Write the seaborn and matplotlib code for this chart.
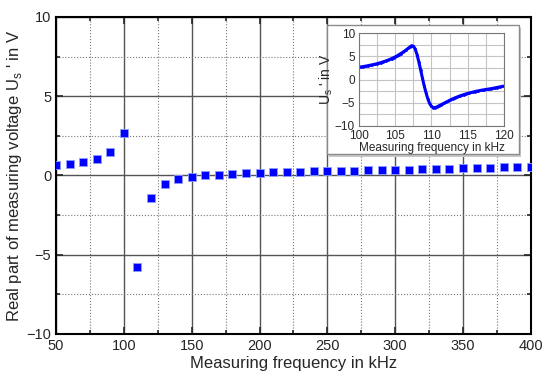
import numpy as np
import pandas as pd
import seaborn as sns
import matplotlib.pyplot as plt
from matplotlib.patches import Rectangle
from matplotlib.ticker import MultipleLocator

# main sweep, 10 kHz steps
freq = [50, 60, 70, 80, 90, 100, 110, 120, 130, 140, 150, 160, 170, 180, 190,
        200, 210, 220, 230, 240, 250, 260, 270, 280, 290, 300, 310, 320, 330,
        340, 350, 360, 370, 380, 390, 400]
u_real = [0.66, 0.75, 0.85, 1.05, 1.45, 2.65, -5.75, -1.4, -0.55, -0.25,
          -0.08, 0.0, 0.05, 0.1, 0.15, 0.18, 0.2, 0.22, 0.24, 0.26, 0.28,
          0.29, 0.31, 0.32, 0.34, 0.35, 0.37, 0.39, 0.41, 0.43, 0.45, 0.47,
          0.49, 0.51, 0.53, 0.55]

# fine sweep around resonance (inset)
freq_fine = [100.0, 100.25, 100.5, 100.75, 101.0, 101.25, 101.5, 101.75, 102.0,
             102.25, 102.5, 102.75, 103.0, 103.25, 103.5, 103.75, 104.0, 104.25,
             104.5, 104.75, 105.0, 105.25, 105.5, 105.75, 106.0, 106.25, 106.5,
             106.75, 107.0, 107.25, 107.5, 107.75, 108.0, 108.25, 108.5, 108.75,
             109.0, 109.25, 109.5, 109.75, 110.0, 110.25, 110.5, 110.75, 111.0,
             111.25, 111.5, 111.75, 112.0, 112.25, 112.5, 112.75, 113.0, 113.25,
             113.5, 113.75, 114.0, 114.25, 114.5, 114.75, 115.0, 115.25, 115.5,
             115.75, 116.0, 116.25, 116.5, 116.75, 117.0, 117.25, 117.5, 117.75,
             118.0, 118.25, 118.5, 118.75, 119.0, 119.25, 119.5, 119.75, 120.0]
u_fine = [2.66, 2.72, 2.78, 2.85, 2.92, 3.0, 3.08, 3.16, 3.25,
          3.34, 3.44, 3.55, 3.66, 3.78, 3.91, 4.05, 4.2, 4.35,
          4.52, 4.7, 4.9, 5.1, 5.35, 5.6, 5.85, 6.1, 6.4,
          6.7, 7.0, 7.3, 7.2, 6.6, 5.4, 3.8, 2.1, 0.3,
          -1.4, -2.9, -4.2, -5.2, -5.8, -6.05, -6.05, -5.9, -5.7,
          -5.5, -5.3, -5.1, -4.9, -4.7, -4.5, -4.3, -4.12, -3.95,
          -3.8, -3.65, -3.5, -3.37, -3.24, -3.12, -3.0, -2.9, -2.8,
          -2.7, -2.6, -2.52, -2.44, -2.36, -2.28, -2.22, -2.15, -2.09,
          -2.03, -1.97, -1.9, -1.82, -1.74, -1.66, -1.58, -1.5, -1.43]

sns.set_style("ticks")
plt.rcParams['font.family'] = ['Liberation Sans', 'DejaVu Sans']
plt.rcParams['mathtext.fontset'] = 'custom'
plt.rcParams['mathtext.rm'] = 'Liberation Sans'

df = pd.DataFrame({'f': freq, 'u': u_real})
df_fine = pd.DataFrame({'f': freq_fine, 'u': u_fine})

fig = plt.figure(figsize=(5.5, 3.86), dpi=100)
ax = fig.add_axes([0.102, 0.135, 0.863, 0.821])

sns.scatterplot(data=df, x='f', y='u', ax=ax, marker='s', s=30,
                color='#0000ff', edgecolor='#8c9cff', linewidth=0.6, zorder=5)

ax.set_xlim(50, 400)
ax.set_ylim(-10, 10)
ax.xaxis.set_major_locator(MultipleLocator(50))
ax.xaxis.set_minor_locator(MultipleLocator(25))
ax.yaxis.set_major_locator(MultipleLocator(5))
ax.yaxis.set_minor_locator(MultipleLocator(2.5))
ax.grid(which='major', color='#555555', lw=1.0, ls='-')
ax.grid(which='minor', color='#777777', lw=0.8, ls=':')
ax.set_axisbelow(True)
for sp in ax.spines.values():
    sp.set_linewidth(1.5)
    sp.set_color('black')
ax.tick_params(which='both', direction='in', top=True, right=True,
               labelsize=10.5, width=1.2)
ax.tick_params(which='major', length=5)
ax.tick_params(which='minor', length=3)
ax.set_xlabel('Measuring frequency in kHz', fontsize=12, labelpad=2)
ax.set_ylabel("Real part of measuring voltage U$_\\mathregular{s}$ ' in V",
              fontsize=12, labelpad=2)

# inset frame with shadow
shadow = Rectangle((0.599, 0.594), 0.349, 0.334, transform=fig.transFigure,
                   facecolor='#c8c8c8', edgecolor='none', zorder=9)
frame = Rectangle((0.595, 0.601), 0.349, 0.334, transform=fig.transFigure,
                  facecolor='white', edgecolor='#8a8a8a', lw=1.0, zorder=10)
fig.patches.extend([shadow, frame])

axi = fig.add_axes([0.653, 0.674, 0.263, 0.240], zorder=11)
sns.lineplot(data=df_fine, x='f', y='u', ax=axi, color='#0000ff', lw=2.2,
             marker='o', markersize=2, markeredgewidth=0)
axi.set_xlim(100, 120)
axi.set_ylim(-10, 10)
axi.set_xticks([100, 105, 110, 115, 120])
axi.set_yticks([-10, -5, 0, 5, 10])
axi.xaxis.set_minor_locator(MultipleLocator(2.5))
axi.yaxis.set_minor_locator(MultipleLocator(2.5))
axi.grid(which='both', color='#c4c4c4', lw=0.8)
for sp in axi.spines.values():
    sp.set_linewidth(0.8)
    sp.set_color('#777777')
axi.tick_params(which='both', length=0, labelsize=8.5)
axi.tick_params(axis='x', pad=3)
axi.tick_params(axis='y', pad=3)
axi.set_xlabel('Measuring frequency in kHz', fontsize=8.5, labelpad=0)
axi.set_ylabel("U$_\\mathregular{s}$ ' in V", fontsize=10, labelpad=0)

fig.savefig('out.png', dpi=100)
